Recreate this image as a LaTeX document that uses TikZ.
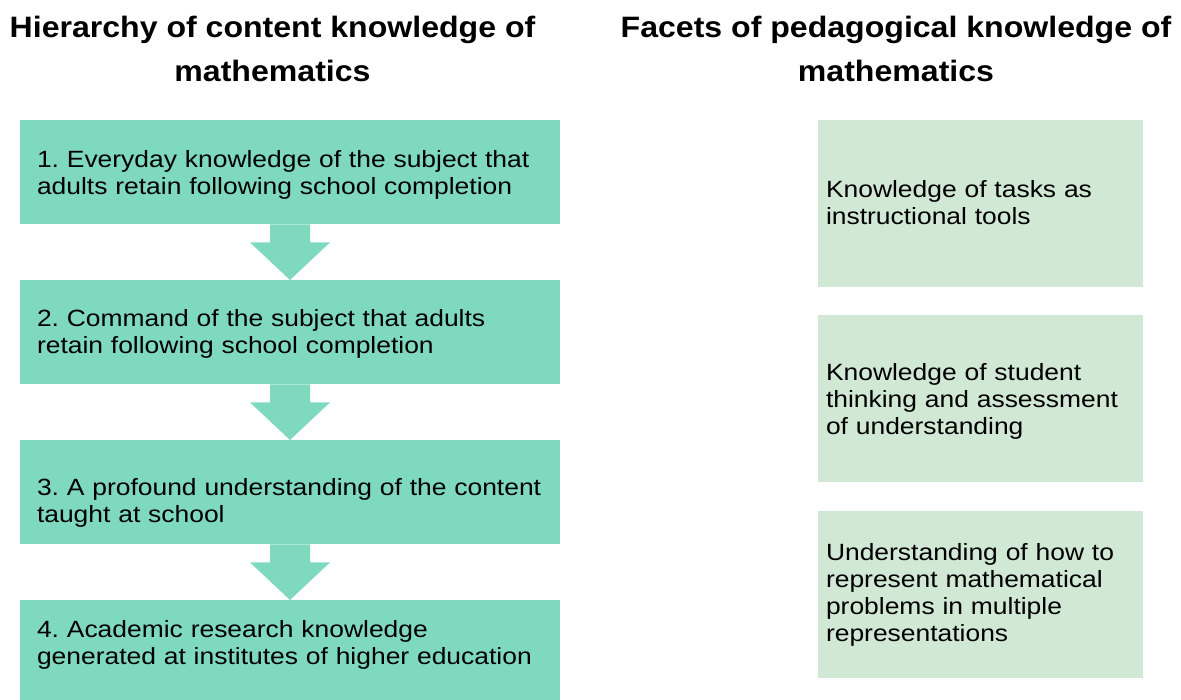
\documentclass[tikz,border=0pt]{standalone}
\usepackage{fontspec}
\setmainfont{Liberation Sans}[FakeStretch=1.125,BoldFeatures={FakeStretch=1.087}]
\usetikzlibrary{calc}
\frenchspacing

\definecolor{stepgreen}{RGB}{127,217,190}
\definecolor{facetgreen}{RGB}{208,232,212}

% #1 = distance from the top of the box to the first baseline
\tikzset{
  stepbox/.style={fill=stepgreen,anchor=north,minimum width=540pt,
    inner xsep=17pt,inner ysep=0pt,text width=506pt,align=left,
    text height=#1,text depth=104pt-#1,
    font=\fontsize{23.5}{27}\selectfont},
  facetbox/.style={fill=facetgreen,anchor=north,minimum width=325pt,
    inner xsep=8pt,inner ysep=0pt,text width=309pt,align=left,
    text height=#1,text depth=167pt-#1,
    font=\fontsize{23.5}{27}\selectfont},
  heading/.style={align=center,font=\bfseries\fontsize{29.5}{44}\selectfont,inner sep=0pt},
  blockarrow/.style={fill=stepgreen}
}

\begin{document}
\begin{tikzpicture}[x=1pt,y=-1pt]
\useasboundingbox (0,0) rectangle (1181,700);

\node[heading,anchor=north] (tleft) at (272.5,16) {Hierarchy of content knowledge of\\mathematics};
\node[heading,anchor=north] (tright) at (896,16) {Facets of pedagogical knowledge of\\mathematics};

\node[stepbox=47pt] (b1) at (290,120) {1. Everyday knowledge of the subject that\\adults retain following school completion};
\node[stepbox=46pt] (b2) at (290,280) {2. Command of the subject that adults\\retain following school completion};
\node[stepbox=55pt] (b3) at (290,440) {3. A profound understanding of the content\\taught at school};
\node[stepbox=37pt] (b4) at (290,600) {4. Academic research knowledge\\generated at institutes of higher education};

\node[facetbox=78pt] (f1) at (980.5,119.5) {Knowledge of tasks as\\instructional tools};
\node[facetbox=66pt] (f2) at (980.5,314.5) {Knowledge of student\\thinking and assessment\\of understanding};
\node[facetbox=50pt] (f3) at (980.5,510.5) {Understanding of how to\\represent mathematical\\problems in multiple\\representations};

% arrows between the steps
\fill[blockarrow] ($(b1.south)+(-20,0)$) -- ($(b1.south)+(20,0)$) -- ($(b1.south)+(20,18)$) -- ($(b1.south)+(40,18)$) -- (b2.north) -- ($(b1.south)+(-40,18)$) -- ($(b1.south)+(-20,18)$) -- cycle;
\fill[blockarrow] ($(b2.south)+(-20,0)$) -- ($(b2.south)+(20,0)$) -- ($(b2.south)+(20,18)$) -- ($(b2.south)+(40,18)$) -- (b3.north) -- ($(b2.south)+(-40,18)$) -- ($(b2.south)+(-20,18)$) -- cycle;
\fill[blockarrow] ($(b3.south)+(-20,0)$) -- ($(b3.south)+(20,0)$) -- ($(b3.south)+(20,18)$) -- ($(b3.south)+(40,18)$) -- (b4.north) -- ($(b3.south)+(-40,18)$) -- ($(b3.south)+(-20,18)$) -- cycle;
\end{tikzpicture}
\end{document}
